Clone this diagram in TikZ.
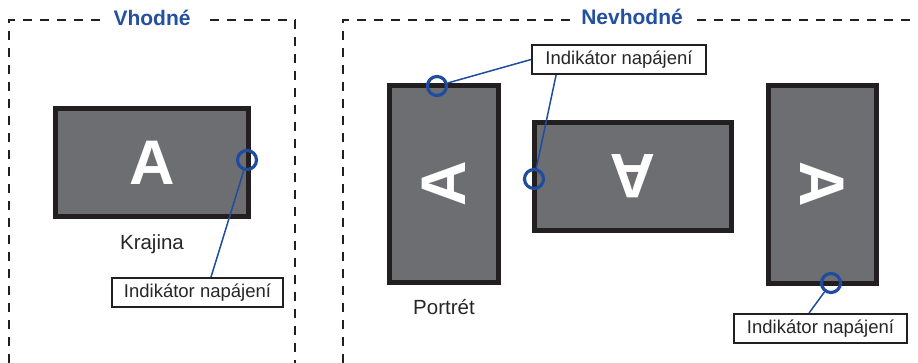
\documentclass[tikz,border=0pt]{standalone}
\usepackage{fontspec}
\setmainfont{Liberation Sans}
\usetikzlibrary{calc}
\definecolor{scr}{HTML}{6D6E71}
\definecolor{frame}{HTML}{231F20}
\definecolor{ind}{HTML}{1F4C9E}
\definecolor{ttl}{HTML}{2450A0}
\tikzset{
  monitor/.style={draw=frame, fill=scr, line width=5pt, inner sep=0pt, rectangle},
  letterA/.style={text=white, font=\fontsize{63}{63}\selectfont\bfseries, inner sep=0pt},
  indic/.style={draw=ind, line width=3.2pt, circle, minimum size=19pt, inner sep=0pt},
  lbl/.style={draw=frame, line width=1.8pt, fill=white, inner sep=0pt, font=\fontsize{18.5}{18.5}\selectfont, text=black!85},
  conn/.style={draw=ind, line width=1.5pt},
  frameline/.style={draw=frame, line width=2pt, dash pattern=on 9pt off 8pt},
  title/.style={text=ttl, fill=white, font=\fontsize{21}{21}\selectfont\bfseries, inner xsep=11pt, inner ysep=2pt},
  caption/.style={font=\fontsize{20.5}{20.5}\selectfont, text=black!85, inner sep=0pt}
}
\begin{document}
\begin{tikzpicture}[x=1pt,y=-1pt]
\useasboundingbox (0,0) rectangle (918,363);
% dashed frames
\draw[frameline] (9,380) -- (9,20) -- (295,20) -- (295,380);
\draw[frameline] (343,380) -- (343,20) -- (940,20);
\node[title] (t1) at (152,18) {Vhodné};
\node[title] (t2) at (632,17) {Nevhodné};
% monitors
\node[monitor, minimum width=193pt, minimum height=108pt] (m1) at (152,162.5) {};
\node[letterA] at (m1) {A};
\node[monitor, minimum width=109pt, minimum height=197pt] (m2) at (444,184) {};
\node[letterA, rotate=90] at (m2) {A};
\node[monitor, minimum width=197pt, minimum height=108pt] (m3) at (633,176.5) {};
\node[letterA, rotate=180] at (m3) {A};
\node[monitor, minimum width=108pt, minimum height=198pt] (m4) at (822.5,184.5) {};
\node[letterA, rotate=-90] at (m4) {A};
% captions
\node[caption] (k1) at (152,244) {Krajina};
\node[caption] (k2) at (444,307) {Portrét};
% labels
\node[lbl, minimum width=171pt, minimum height=29pt] (L1) at (197.5,292.5) {Indikátor napájení};
\node[lbl, minimum width=174pt, minimum height=29pt] (L2) at (619,59.5) {Indikátor napájení};
\node[lbl, minimum width=173pt, minimum height=29pt] (L3) at (820.5,328.5) {Indikátor napájení};
% indicators
\node[indic] (c1) at (247,160) {};
\node[indic] (c2) at (437,86) {};
\node[indic] (c3) at (534,179) {};
\node[indic] (c4) at (831,283) {};
% connectors
\path[conn] (c1) -- ($(L1.north)+(13.5,0)$);
\path[conn] (c2) -- (L2.west);
\path[conn] (c3) -- ($(L2.south west)+(25,0)$);
\path[conn] (c4) -- ($(L3.north)+(-11.5,0)$);
\end{tikzpicture}
\end{document}
